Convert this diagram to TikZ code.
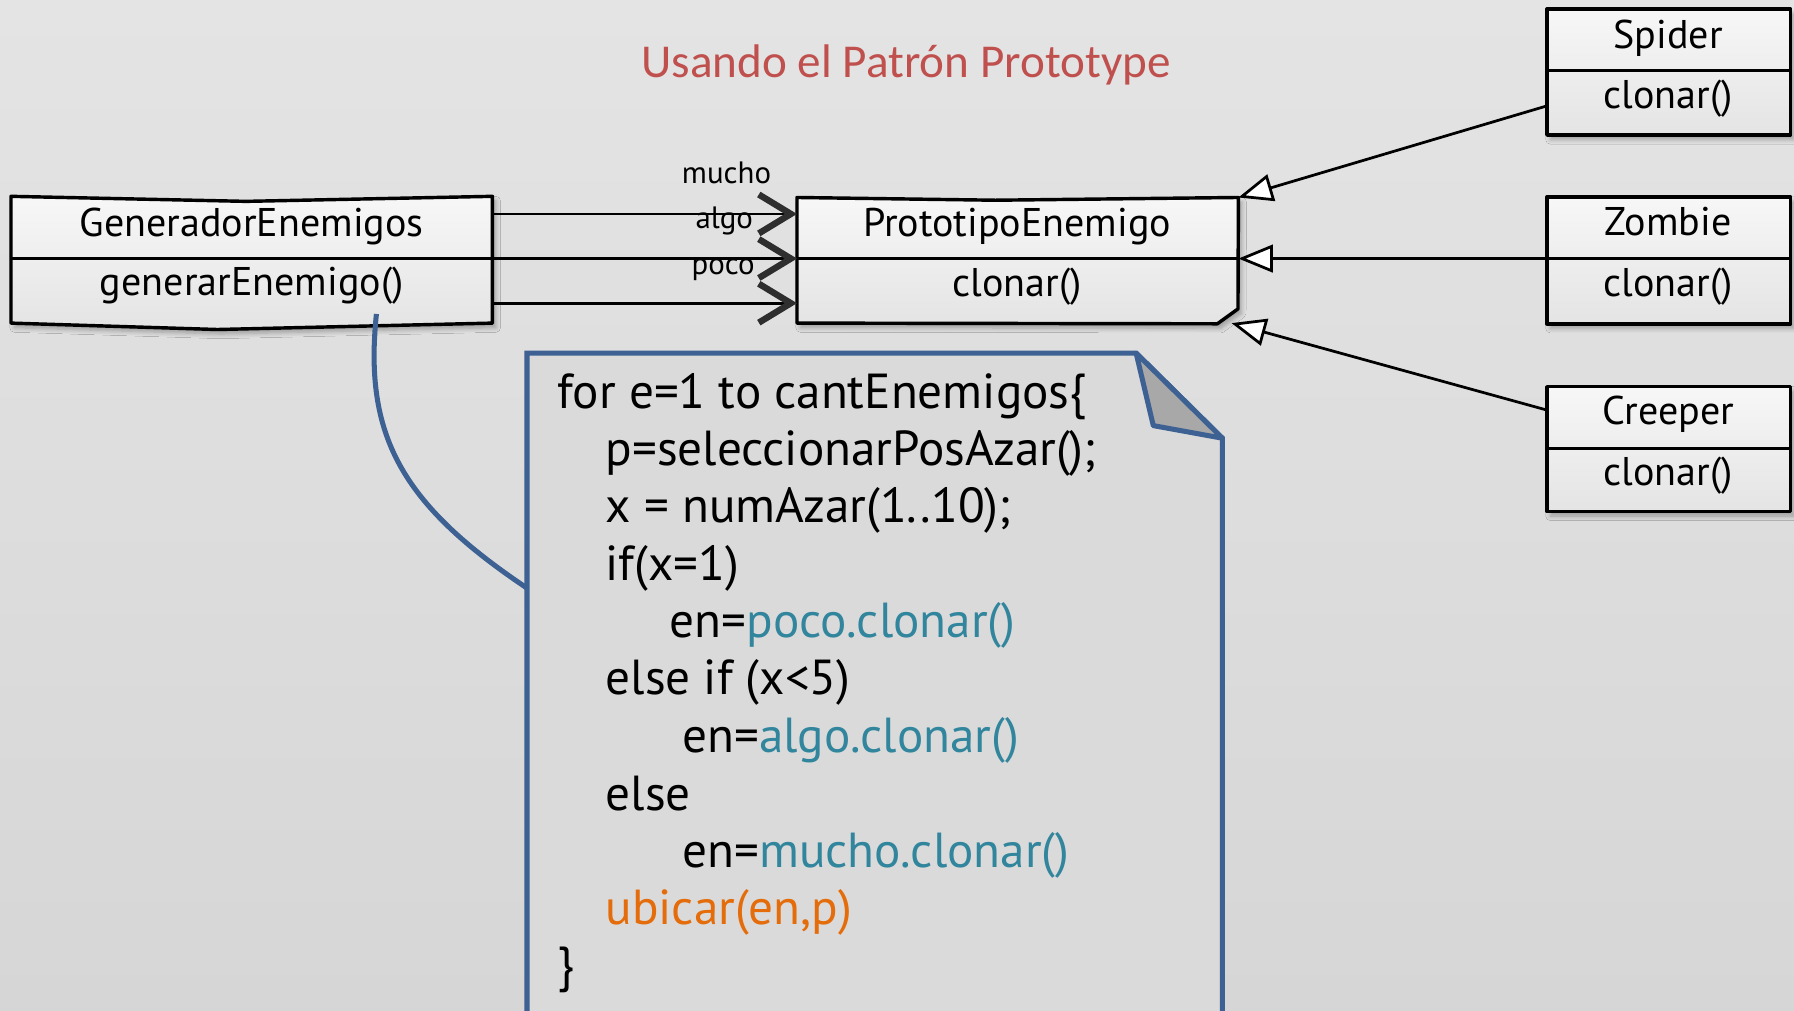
\documentclass[tikz,border=0pt]{standalone}
\usepackage{fontspec}
\setmainfont{PT Sans}
\newfontfamily\titlefont{Carlito}
\usetikzlibrary{arrows.meta,fit,shadows.blur,calc}

\definecolor{bgtop}{HTML}{E4E4E4}
\definecolor{bgbot}{HTML}{D6D6D6}
\definecolor{boxtop}{HTML}{F7F7F7}
\definecolor{boxbot}{HTML}{E4E4E4}
\definecolor{titlered}{HTML}{C0504D}
\definecolor{noteblue}{HTML}{3D6192}
\definecolor{notefill}{HTML}{DADADA}
\definecolor{foldgray}{HTML}{A8A8A8}
\definecolor{codeteal}{HTML}{31859C}
\definecolor{codeorange}{HTML}{E46C0A}
\definecolor{headgray}{HTML}{2E2E2E}

\begin{document}
\begin{tikzpicture}[x=0.5pt,y=-0.5pt,
  boxshape/.style={draw=black, line width=1.5pt, line join=round, top color=boxtop,
    bottom color=boxbot, blur shadow={shadow blur steps=6, shadow xshift=1.5pt,
    shadow yshift=-2pt, shadow opacity=30}},
  umlbox/.style={boxshape, inner sep=0pt},
  boxframe/.style={inner sep=0pt},
  divider/.style={draw=black, line width=1.3pt},
  umltxt/.style={font=\fontsize{17.5}{20}\selectfont, anchor=base, inner sep=0pt},
  codetxt/.style={font=\fontsize{21.5}{25}\selectfont, anchor=base west, inner sep=0pt},
  lbl/.style={font=\fontsize{13.5}{15}\selectfont, anchor=base, inner sep=0pt},
  assoc/.style={draw=black, line width=1.2pt,
    -{Straight Barb[length=14pt,width=17pt,line width=2.8pt,color=headgray]}},
  inherit/.style={draw=black, line width=1.2pt,
    -{Triangle[length=15pt,width=12pt,fill=white]}},
  notebox/.style={draw=noteblue, line width=2.2pt, fill=notefill, line join=miter},
]
\useasboundingbox (0,0) rectangle (1568,883);
\clip (0,0) rectangle (1568,883);

% background
\shade[top color=bgtop, bottom color=bgbot] (0,0) rectangle (1568,883);

% title
\node[font=\titlefont\fontsize{20.6}{24}\selectfont, text=titlered, inner sep=0pt]
  (title) at (792,57) {Usando el Patrón Prototype};

% class boxes (the two central ones get a slightly hand-drawn outline)
\node[boxframe, fit={(10,172) (430,282)}] (gen) {};
\path[boxshape] (gen.north west) -- (215,176) -- (gen.north east) -- (gen.south east)
  -- (190,288) -- (gen.south west) -- cycle;
\node[boxframe, fit={(697,173) (1082,282)}] (proto) {};
\path[boxshape] (proto.north west) -- (870,175) -- (proto.north east)
  -- (1082,270) -- (1064,283) -- (proto.south west) -- cycle;
\node[umlbox, fit={(1352,8) (1565,118)}] (spider) {};
\node[umlbox, fit={(1352,172) (1565,283)}] (zombie) {};
\node[umlbox, fit={(1352,338) (1565,447)}] (creeper) {};

\draw[divider] (gen.west |- 0,226) -- (gen.east |- 0,226);
\draw[divider] (proto.west |- 0,226) -- (proto.east |- 0,226);
\draw[divider] (spider.west |- 0,62) -- (spider.east |- 0,62);
\draw[divider] (zombie.west |- 0,226) -- (zombie.east |- 0,226);
\draw[divider] (creeper.west |- 0,392) -- (creeper.east |- 0,392);

\node[umltxt] (genname) at (220,207) {GeneradorEnemigos};
\node[umltxt] (genop) at (220,258) {generarEnemigo()};
\node[umltxt] (protoname) at (889,207) {PrototipoEnemigo};
\node[umltxt] (protoop) at (889,259) {clonar()};
\node[umltxt] (spidername) at (1458,42) {Spider};
\node[umltxt] (spiderop) at (1458,95) {clonar()};
\node[umltxt] (zombiename) at (1458,206) {Zombie};
\node[umltxt] (zombieop) at (1458,259) {clonar()};
\node[umltxt] (creepername) at (1458,371) {Creeper};
\node[umltxt] (creeperop) at (1458,424) {clonar()};

% associations GeneradorEnemigos -> PrototipoEnemigo
\draw[assoc] (gen.east |- 0,187) -- (proto.west |- 0,187);
\draw[assoc] (gen.east |- 0,226) -- (proto.west |- 0,226);
\draw[assoc] (gen.east |- 0,265) -- (proto.west |- 0,265);
\node[lbl] (lmucho) at (635,160) {mucho};
\node[lbl] (lalgo) at (633,200) {algo};
\node[lbl] (lpoco) at (632,240) {poco};

% generalizations
\draw[inherit] (spider.west |- 0,93) -- (proto.north east);
\draw[inherit] (zombie.west |- 0,226) -- (proto.east |- 0,226);
\draw[inherit] (creeper.west |- 0,358) -- ($(proto.south east)+(-6,0)$);

% note with folded corner
\node[fit={(461,309) (1068,900)}, inner sep=0pt] (note) {};
\path[notebox] (note.north west) -- (note.north west -| 993,0) -- (note.east |- 0,383)
  -- (note.south east) -- (note.south west) -- cycle;
\path[notebox, fill=foldgray, line join=round] (note.north west -| 993,0) -- (1008,372)
  -- (note.east |- 0,383) -- cycle;

% note anchor line
\draw[noteblue, line width=2.2pt] (gen.south -| 329,0) ++(0,-8)
  .. controls (318,380) and (350,440) .. (note.west |- 0,514);

% pseudocode
\node[codetxt] (c1) at (487,357) {for e=1 to cantEnemigos\{};
\node[codetxt] (c2) at (529,407) {p=seleccionarPosAzar();};
\node[codetxt] (c3) at (529,457) {x = numAzar(1..10);};
\node[codetxt] (c4) at (529,507) {if(x=1)};
\node[codetxt] (c5) at (585,557) {en=\textcolor{codeteal}{poco.clonar()}};
\node[codetxt] (c6) at (529,607) {else if (x<5)};
\node[codetxt] (c7) at (596,658) {en=\textcolor{codeteal}{algo.clonar()}};
\node[codetxt] (c8) at (529,708) {else};
\node[codetxt] (c9) at (596,758) {en=\textcolor{codeteal}{mucho.clonar()}};
\node[codetxt, text=codeorange] (c10) at (529,808) {ubicar(en,p)};
\node[codetxt] (c11) at (487,858) {\}};
\end{tikzpicture}
\end{document}
